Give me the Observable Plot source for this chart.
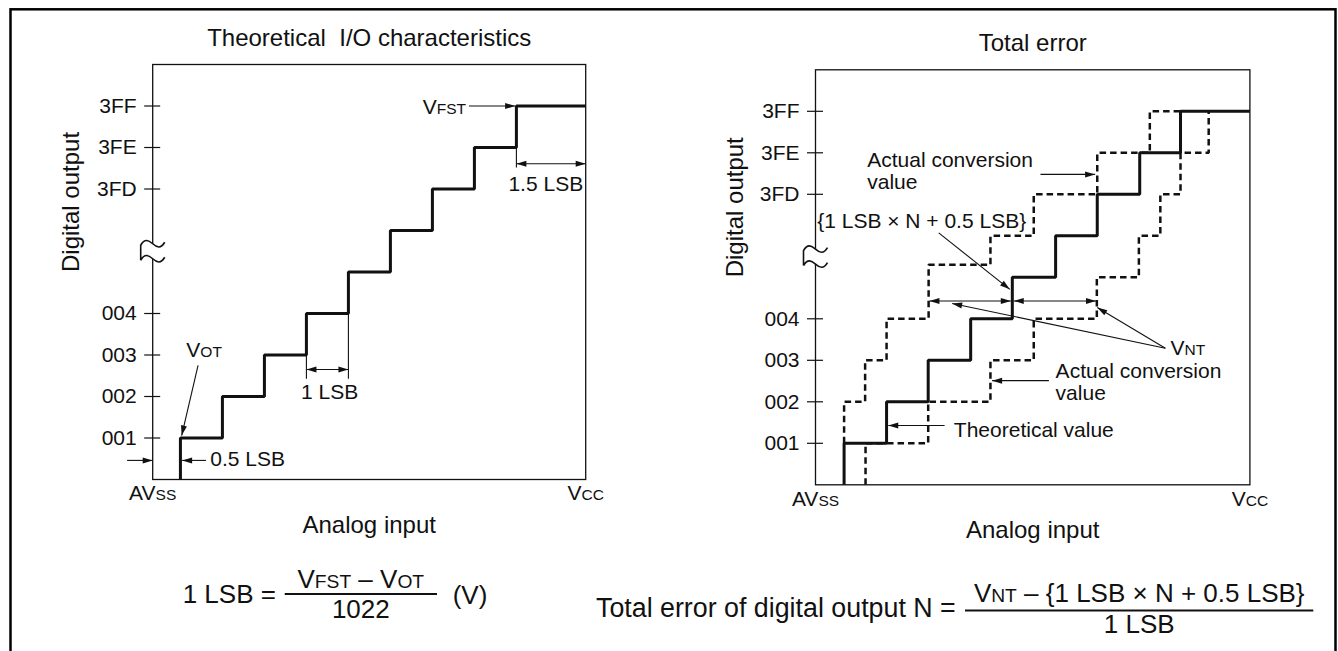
<!DOCTYPE html>
<html>
<head>
<meta charset="utf-8">
<script src="https://cdn.jsdelivr.net/npm/d3@7"></script>
<script src="https://cdn.jsdelivr.net/npm/@observablehq/plot@0.6"></script>
<style>
html, body { margin: 0; padding: 0; background: #fff; }
#wrap { position: relative; width: 1338px; height: 651px; overflow: hidden; background: #fff; }
#wrap > svg { position: absolute; top: 0; }
</style>
</head>
<body>
<div id="wrap"></div>
<script>
// ================= DATA =================
// Vertical axis: code levels (0 = bottom of frame); a break sits between 004 and 3FD
const yTickValues = [1, 2, 3, 4, 7, 8, 9];
const yTickLabels = ["001", "002", "003", "004", "3FD", "3FE", "3FF"];
const breakLevels = [5.5];
// Horizontal axis end labels (^...^ = small capitals)
const xTickLabels = ["AV^SS^", "V^CC^"];

const titles = ["Theoretical  I/O characteristics", "Total error"];
const xAxisTitle = "Analog input";
const yAxisTitle = "Digital output";

// ---- Left panel (x in LSB units from AVss) ----
const leftXMax = 10.31;
const leftRiserX = [0.66, 1.66, 2.66, 3.66, 4.66, 5.66, 6.66, 7.66, 8.66];
const leftRiserLevel = [1, 2, 3, 4, 5, 6, 7, 8, 9];
const leftArrows = [
  {x1: 7.53, y1: 9, x2: 8.63, y2: 9},          // VFST
  {x1: 1.08, y1: 2.75, x2: 0.69, y2: 1.06},    // VOT
  {x1: -0.61, y1: 0.46, x2: 0, y2: 0.46},      // 0.5 LSB (left)
  {x1: 1.27, y1: 0.46, x2: 0.70, y2: 0.46}     // 0.5 LSB (right)
];
const leftDims = [
  {x1: 8.66, x2: leftXMax, y: 7.61},           // 1.5 LSB
  {x1: 3.66, x2: 4.66, y: 2.65}                // 1 LSB
];
const leftExt = [
  {x: 8.66, y1: 8, y2: 7.52},
  {x: 3.66, y1: 3, y2: 2.43},
  {x: 4.66, y1: 4, y2: 2.43}
];
const leftNotes = [
  {x: 6.43, y: 8.81, t: "V^FST^"},
  {x: 8.47, y: 6.96, t: "1.5 LSB"},
  {x: 3.53, y: 1.95, t: "1 LSB"},
  {x: 0.80, y: 2.94, t: "V^OT^"},
  {x: 1.37, y: 0.32, t: "0.5 LSB"}
];

// ---- Right panel ----
const rightXMax = 10.33;
const theoRiserX = [0.68, 1.69, 2.68, 3.69, 4.68, 5.71, 6.70, 7.71, 8.68];
const theoRiserLevel = [1, 2, 3, 4, 5, 6, 7, 8, 9];
const earlyRiserX = [0.68, 1.18, 1.69, 2.69, 4.16, 5.19, 6.70, 7.95];
const earlyRiserLevel = [2, 3, 4, 5.3, 6, 7, 8, 9];
const earlyEndX = 8.68;
const lateRiserX = [1.19, 2.68, 4.16, 5.19, 6.69, 7.69, 8.20, 8.68, 9.35];
const lateRiserLevel = [1, 2, 3, 4, 5, 6, 7, 8, 9];
const rightArrows = [
  {x1: 5.35, y1: 7.48, x2: 6.65, y2: 7.48},    // upper "Actual conversion value"
  {x1: 2.93, y1: 6.07, x2: 4.62, y2: 4.71},    // {1 LSB x N + 0.5 LSB}
  {x1: 8.32, y1: 3.29, x2: 3.25, y2: 4.37},    // VNT -> left
  {x1: 8.32, y1: 3.29, x2: 6.70, y2: 4.27},    // VNT -> right
  {x1: 5.55, y1: 2.51, x2: 4.20, y2: 2.51},    // lower "Actual conversion value"
  {x1: 3.07, y1: 1.43, x2: 1.73, y2: 1.43}     // Theoretical value
];
const rightDims = [
  {x1: 2.71, x2: 4.645, y: 4.43},
  {x1: 4.715, x2: 6.67, y: 4.43}
];
const rightNotes = [
  {x: 1.23, y: 7.65, t: "Actual conversion"},
  {x: 1.23, y: 7.12, t: "value"},
  {x: 0.04, y: 6.19, t: "{1 LSB × N + 0.5 LSB}"},
  {x: 8.44, y: 3.12, t: "V^NT^"},
  {x: 5.71, y: 2.57, t: "Actual conversion"},
  {x: 5.71, y: 2.04, t: "value"},
  {x: 3.29, y: 1.14, t: "Theoretical value"}
];

// ================= RENDER =================
const FONT = "'Liberation Sans', Arial, Helvetica, sans-serif";
const INK = "#111";

function stairPoints(startLevel, risers, levels, xEnd) {
  const pts = [{x: risers[0], y: startLevel}];
  risers.forEach((x, i) => pts.push({x, y: levels[i]}));
  if (xEnd != null) pts.push({x: xEnd, y: levels[levels.length - 1]});
  return pts;
}

const breakFill = {draw(c) {
  c.moveTo(-12, -6); c.bezierCurveTo(-8, -13, -4, -11, 0, -7.5); c.bezierCurveTo(4, -4, 8, -2, 12, -9);
  c.lineTo(12, 6); c.bezierCurveTo(8, 13, 4, 11, 0, 7.5); c.bezierCurveTo(-4, 4, -8, 2, -12, 9); c.closePath();
}};
const breakLine = {draw(c) {
  c.moveTo(-12, 9); c.lineTo(-12, -6);
  c.bezierCurveTo(-8, -13, -4, -11, 0, -7.5); c.bezierCurveTo(4, -4, 8, -2, 12, -9);
  c.moveTo(-12, 9); c.bezierCurveTo(-8, 2, -4, 4, 0, 7.5); c.bezierCurveTo(4, 11, 8, 13, 12, 6);
}};

function panel({width, height, margins, xMax, title, yLabelDx, marks}) {
  return Plot.plot({
    width, height, ...margins,
    x: {domain: [0, xMax], label: null},
    y: {domain: [0, 10], label: null},
    style: {fontFamily: FONT, fontSize: "21px", color: INK, background: "transparent", overflow: "visible"},
    marks: [
      Plot.frame({strokeWidth: 1.3}),
      Plot.axisY({ticks: yTickValues, tickSize: 16, dx: 8, fill: "none", label: null, strokeWidth: 1.2}),
      Plot.axisY({ticks: yTickValues, tickSize: 0, tickPadding: 16, label: null,
        tickFormat: d => yTickLabels[yTickValues.indexOf(d)]}),
      Plot.axisX({ticks: [0, xMax], tickSize: 0, tickPadding: 6, label: null,
        tickFormat: d => (d === 0 ? xTickLabels[0] : xTickLabels[1])}),
      Plot.dot(breakLevels, {x: () => 0, y: d => d, symbol: breakFill, fill: "white", stroke: "none"}),
      Plot.dot(breakLevels, {x: () => 0, y: d => d, symbol: breakLine, fill: "none", stroke: INK, strokeWidth: 1.6}),
      Plot.text([title], {frameAnchor: "top", dy: -19, lineAnchor: "bottom", fontSize: 24, text: d => d}),
      Plot.text([xAxisTitle], {frameAnchor: "bottom", dy: 53, lineAnchor: "bottom", fontSize: 24, text: d => d}),
      Plot.text([yAxisTitle], {frameAnchor: "left", dx: yLabelDx, rotate: -90, lineAnchor: "bottom", fontSize: 24, text: d => d}),
      ...marks
    ]
  });
}

const solid = {x: "x", y: "y", curve: "step-after", stroke: INK, strokeWidth: 3, strokeLinejoin: "miter", strokeLinecap: "butt"};
const dashed = {x: "x", y: "y", curve: "step-after", stroke: INK, strokeWidth: 2.5, strokeDasharray: "6.5,4", strokeLinejoin: "miter", strokeLinecap: "butt"};
const thin = {stroke: INK, strokeWidth: 1.1};

const left = panel({
  width: 670, height: 560,
  margins: {marginLeft: 152.2, marginRight: 84.8, marginTop: 64, marginBottom: 81},
  xMax: leftXMax, title: titles[0], yLabelDx: -74,
  marks: [
    Plot.line(stairPoints(0, leftRiserX, leftRiserLevel, leftXMax), solid),
    Plot.link(leftExt, {x1: "x", x2: "x", y1: "y1", y2: "y2", ...thin}),
    Plot.link(leftDims, {x1: "x1", x2: "x2", y1: "y", y2: "y", ...thin, markerStart: "arrow", markerEnd: "arrow"}),
    Plot.link(leftArrows, {x1: "x1", y1: "y1", x2: "x2", y2: "y2", ...thin, markerEnd: "arrow"}),
    Plot.text(leftNotes, {x: "x", y: "y", text: "t", textAnchor: "start", lineAnchor: "bottom", fontSize: 21})
  ]
});

const right = panel({
  width: 668, height: 560,
  margins: {marginLeft: 145, marginRight: 88.6, marginTop: 69.3, marginBottom: 75.7},
  xMax: rightXMax, title: titles[1], yLabelDx: -73,
  marks: [
    Plot.line(stairPoints(1, earlyRiserX, earlyRiserLevel, earlyEndX), dashed),
    Plot.line(stairPoints(0, lateRiserX, lateRiserLevel, null), dashed),
    Plot.line(stairPoints(0, theoRiserX, theoRiserLevel, rightXMax), solid),
    Plot.link(rightDims, {x1: "x1", x2: "x2", y1: "y", y2: "y", ...thin, markerStart: "arrow", markerEnd: "arrow"}),
    Plot.link(rightArrows, {x1: "x1", y1: "y1", x2: "x2", y2: "y2", ...thin, markerEnd: "arrow"}),
    Plot.text(rightNotes, {x: "x", y: "y", text: "t", textAnchor: "start", lineAnchor: "bottom", fontSize: 21})
  ]
});

// ---- frame border and formulas (caption) ----
const wrap = document.getElementById("wrap");
const ov = d3.create("svg").attr("width", 1338).attr("height", 651)
  .style("left", "0px").attr("font-family", FONT).attr("fill", INK);
ov.append("rect").attr("x", 10.5).attr("y", 9.3).attr("width", 1325).attr("height", 700)
  .attr("fill", "none").attr("stroke", "#000").attr("stroke-width", 2.5);
function txt(x, y, s, anchor, size = 26) {
  ov.append("text").attr("x", x).attr("y", y).attr("text-anchor", anchor).attr("font-size", size).text(s);
}
function bar(x1, x2, y) {
  ov.append("line").attr("x1", x1).attr("x2", x2).attr("y1", y).attr("y2", y).attr("stroke", INK).attr("stroke-width", 2);
}
txt(182.7, 603.3, "1 LSB =", "start");
bar(284.7, 437, 594);
txt(360.8, 588, "V^FST^ – V^OT^", "middle");
txt(360.8, 618, "1022", "middle");
txt(452.7, 604, "(V)", "start");
txt(596, 616.7, "Total error of digital output N =", "start", 26.8);
bar(965, 1313.3, 610.5);
txt(1139.2, 602, "V^NT^ – {1 LSB × N + 0.5 LSB}", "middle");
txt(1139.2, 633.3, "1 LSB", "middle");

wrap.appendChild(ov.node());
left.style.left = "0px";
right.style.left = "670px";
wrap.appendChild(left);
wrap.appendChild(right);

// ---- small capitals: segments between ^ ... ^ ----
wrap.querySelectorAll("text, tspan").forEach(el => {
  if (el.children.length) return;
  const s = el.textContent;
  if (!s.includes("^")) return;
  el.textContent = "";
  s.split("^").forEach((p, i) => {
    if (!p) return;
    const t = document.createElementNS("http://www.w3.org/2000/svg", "tspan");
    if (i % 2) t.setAttribute("font-size", "0.74em");
    t.textContent = p;
    el.appendChild(t);
  });
});

// ---- filled triangular arrowheads at the marked ends of each link ----
const SVGNS = "http://www.w3.org/2000/svg";
wrap.querySelectorAll("[marker-end], [marker-start]").forEach(el => {
  const paths = el.tagName.toLowerCase() === "path" ? [el] : Array.from(el.querySelectorAll("path"));
  const hasEnd = el.hasAttribute("marker-end"), hasStart = el.hasAttribute("marker-start");
  paths.forEach(p => {
    const nums = (p.getAttribute("d") || "").match(/-?\d*\.?\d+(?:e[-+]?\d+)?/gi);
    if (!nums || nums.length < 4) return;
    const n = nums.map(Number);
    const x1 = n[0], y1 = n[1], x2 = n[n.length - 2], y2 = n[n.length - 1];
    const heads = [];
    if (hasEnd) heads.push([x1, y1, x2, y2]);
    if (hasStart) heads.push([x2, y2, x1, y1]);
    heads.forEach(([ax, ay, bx, by]) => {
      const a = Math.atan2(by - ay, bx - ax), c = Math.cos(a), s = Math.sin(a), L = 10, W = 3;
      const pts = [[bx, by], [bx - L * c + W * s, by - L * s - W * c], [bx - L * c - W * s, by - L * s + W * c]];
      const poly = document.createElementNS(SVGNS, "polygon");
      poly.setAttribute("points", pts.map(q => q.join(",")).join(" "));
      poly.setAttribute("fill", INK);
      poly.setAttribute("stroke", "none");
      p.parentNode.appendChild(poly);
    });
  });
  el.removeAttribute("marker-end");
  el.removeAttribute("marker-start");
});
</script>
</body>
</html>
